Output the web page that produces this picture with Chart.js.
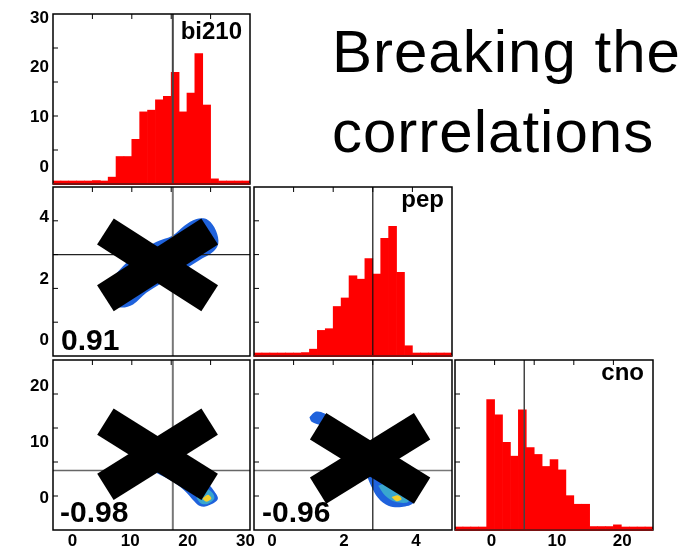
<!DOCTYPE html>
<html>
<head>
<meta charset="utf-8">
<script src="https://cdn.jsdelivr.net/npm/chart.js@4.4.0/dist/chart.umd.min.js"></script>
<style>
html, body { margin: 0; padding: 0; background: #fff; }
#page { position: relative; width: 697px; height: 547px; overflow: hidden; font-family: "Liberation Sans", Arial, Helvetica, sans-serif; }
#page canvas { position: absolute; }
.head { position: absolute; left: 332px; font-size: 60px; line-height: 60px; letter-spacing: 1px; color: #000; white-space: nowrap; }
.tag { position: absolute; font-size: 24px; line-height: 24px; font-weight: bold; color: #000; }
.corr { position: absolute; font-size: 30px; line-height: 30px; font-weight: bold; color: #000; }
</style>
</head>
<body>
<div id="page">
  <div class="head" style="top:22px">Breaking the</div>
  <div class="head" style="top:102px">correlations</div>
</div>
<script>
const FONT = '"Liberation Sans", Arial, Helvetica, sans-serif';
const bins = 25;

// parameter ranges of the panels
const bi210Range = [-3.4, 30.8];
const pepRange = [-0.5, 5.0];
const cnoRange = [-5.6, 24.7];

const bi210Ticks = [0, 10, 20, 30];
const pepTicks = [0, 2, 4];
const cnoTicks = [0, 10, 20];

// histogram counts, 25 bins across each range
const bi210Counts = [0, 0, 0, 0, 1, 2, 1, 4, 16, 16, 26, 42, 43, 49, 51, 65, 42, 53, 76, 46, 3, 0, 0, 0, 0];
const pepCounts = [0, 0, 0, 0, 1, 1, 2, 4, 15, 16, 29, 34, 47, 45, 57, 48, 69, 76, 49, 6, 1, 0, 0, 0, 0];
const cnoCounts = [0, 0, 0, 0, 76, 67, 51, 43, 70, 48, 44, 37, 41, 35, 20, 15, 15, 2, 2, 2, 3, 0, 0, 0, 0];
const countMax = 99;

// best fit values
const bi210Best = 17.4;
const pepBest = 2.8;
const cnoBest = 5.0;

const corrBiPep = '0.91';
const corrBiCno = '-0.98';
const corrPepCno = '-0.96';

// contour outlines (x, y) in parameter units
const biPepOuter = [[6.1, 1.29], [8.2, 1.08], [10.5, 1.18], [12.8, 1.56], [17.4, 2.09], [22.0, 2.62], [24.4, 2.89], [25.3, 3.16], [24.9, 3.58], [23.5, 3.93], [21.5, 3.96], [19.4, 3.74], [17.4, 3.42], [14.5, 3.21], [11.6, 2.89], [8.7, 2.41], [6.4, 1.88], [5.7, 1.5], [6.1, 1.29]];
const biCnoOuter = [[14.5, 4.6], [17.4, 3.0], [19.4, 1.44], [21.2, -0.57], [22.0, -1.26], [23.2, -1.38], [25.2, -0.11], [24.5, 1.44], [23.5, 2.59], [19.7, 5.17], [16.3, 6.9], [14.5, 4.6]];
const biCnoMid = [[21.5, 0.11], [22.3, -0.86], [23.5, -0.92], [24.6, 0.0], [24.2, 1.15], [22.9, 1.72], [21.5, 0.11]];
const biCnoCore = [[22.5, 0.0], [23.2, -0.57], [24.1, 0.0], [23.5, 0.69], [22.5, 0.0]];
const pepCnoOuter = [[1.04, 14.5], [1.22, 15.5], [1.45, 15.2], [1.75, 13.5], [2.31, 9.8], [2.77, 6.3], [3.32, 4.0], [3.79, 1.72], [3.93, -0.69], [3.6, -1.49], [3.23, -1.26], [2.95, 0.11], [2.75, 2.3], [2.58, 4.6], [2.03, 8.6], [1.38, 12.9], [1.1, 13.7], [1.04, 14.5]];
const pepCnoMid = [[2.95, 2.3], [3.14, 0.57], [3.42, -0.57], [3.79, -0.57], [3.69, 1.15], [3.32, 2.87], [2.95, 2.3]];
const pepCnoCore = [[3.32, 0.29], [3.46, -0.46], [3.6, -0.11], [3.51, 0.57], [3.32, 0.29]];

// the crossing-out marks, two arms each: [x1, y1, x2, y2]
const biPepCross = [[5.7, 3.55, 23.8, 1.38], [5.7, 1.38, 23.8, 3.55]];
const biCnoCross = [[5.7, 13.7, 23.8, 2.07], [5.7, 2.07, 23.8, 13.7]];
const pepCnoCross = [[1.28, 12.9, 4.17, 1.43], [1.28, 1.43, 4.17, 12.9]];

const page = document.getElementById('page');

const framePlugin = {
    id: 'frame',
    afterDatasetsDraw(chart, args, opts) {
        const { ctx, chartArea: a } = chart;
        const xs = chart.scales.x;
        const ys = chart.scales.y;
        ctx.save();
        ctx.strokeStyle = '#000';
        ctx.lineWidth = 1;
        ctx.beginPath();
        for (let k = 1; k < 5; k++) {
            const px = xs.getPixelForValue(xs.min + k * (xs.max - xs.min) / 5);
            const py = ys.getPixelForValue(ys.min + k * (ys.max - ys.min) / 5);
            ctx.moveTo(px, a.top);
            ctx.lineTo(px, a.top + 5);
            ctx.moveTo(a.left, py);
            ctx.lineTo(a.left + 5, py);
        }
        ctx.stroke();
        ctx.lineWidth = 1.5;
        ctx.strokeRect(a.left, a.top, a.right - a.left, a.bottom - a.top);
        if (opts.base) {
            ctx.strokeStyle = opts.base;
            ctx.lineWidth = 2;
            ctx.beginPath();
            ctx.moveTo(a.left, a.bottom);
            ctx.lineTo(a.right, a.bottom);
            ctx.stroke();
        }
        ctx.restore();
    }
};

// canvas margins around the plot frame
const M = { left: 50, top: 8, right: 12, bottom: 20 };

const addCanvas = (box) => {
    const c = document.createElement('canvas');
    c.width = box.w + M.left + M.right;
    c.height = box.h + M.top + M.bottom;
    c.style.left = (box.x - M.left) + 'px';
    c.style.top = (box.y - M.top) + 'px';
    page.appendChild(c);
    return c;
};

const addText = (cls, text, style) => {
    const d = document.createElement('div');
    d.className = cls;
    d.textContent = text;
    Object.assign(d.style, style);
    page.appendChild(d);
};

const axis = (range, ticks, pos) => {
    const a = {
        type: 'linear',
        position: pos,
        min: range[0],
        max: range[1],
        offset: false,
        display: !!ticks,
        grid: { display: false, drawTicks: false },
        border: { display: false },
        ticks: {
            color: '#000',
            font: { family: FONT, size: 17, weight: 'bold' },
            padding: pos === 'left' ? 4 : 1,
            maxRotation: 0,
            autoSkip: false
        },
        afterFit: (s) => {
            if (pos === 'left') s.width = ticks ? M.left : 0;
            else s.height = ticks ? M.bottom : 0;
            s.paddingTop = 0;
            s.paddingBottom = 0;
            s.paddingLeft = 0;
            s.paddingRight = 0;
        }
    };
    if (ticks) a.afterBuildTicks = (s) => { s.ticks = ticks.map(v => ({ value: v })); };
    return a;
};

const baseOptions = (scales, frame, xTicks, yTicks) => ({
    responsive: false,
    animation: false,
    devicePixelRatio: 1,
    events: [],
    layout: { padding: { left: yTicks ? 0 : M.left, top: M.top, right: M.right, bottom: xTicks ? 0 : M.bottom } },
    plugins: { legend: { display: false }, tooltip: { enabled: false }, frame: frame },
    scales: scales
});

const refLine = (pts, color, width) => ({
    type: 'line',
    data: pts,
    yAxisID: 'y',
    borderColor: color,
    borderWidth: width,
    pointRadius: 0,
    showLine: true,
    order: 1
});

const histChart = (box, range, counts, best, lineStyle, xTicks, yTicks) => {
    const w = (range[1] - range[0]) / bins;
    const bars = counts.map((c, i) => ({ x: range[0] + (i + 0.5) * w, y: c }));
    return new Chart(addCanvas(box), {
        type: 'bar',
        data: {
            datasets: [
                refLine([{ x: best, y: range[0] }, { x: best, y: range[1] }], lineStyle[0], lineStyle[1]),
                {
                    data: bars,
                    yAxisID: 'yc',
                    backgroundColor: '#ff0000',
                    borderWidth: 0,
                    barPercentage: 1,
                    categoryPercentage: 1,
                    minBarLength: 3,
                    order: 2
                }
            ]
        },
        options: baseOptions({
            x: axis(range, xTicks, 'bottom'),
            y: axis(range, yTicks, 'left'),
            yc: { type: 'linear', display: false, min: 0, max: countMax }
        }, { base: '#7a1212' }, xTicks, yTicks),
        plugins: [framePlugin]
    });
};

const layer = (pts, color, order) => ({
    type: 'line',
    data: pts.map(p => ({ x: p[0], y: p[1] })),
    showLine: true,
    borderWidth: 0,
    borderColor: color,
    backgroundColor: color,
    fill: 'shape',
    tension: 0.35,
    pointRadius: 0,
    order: order
});

const arm = (seg) => ({
    type: 'line',
    data: [{ x: seg[0], y: seg[1] }, { x: seg[2], y: seg[3] }],
    showLine: true,
    borderColor: '#000',
    borderWidth: 31,
    borderCapStyle: 'butt',
    pointRadius: 0,
    order: 0
});

const pairChart = (box, xr, yr, xBest, yBest, layers, cross, vStyle, hStyle, xTicks, yTicks) => {
    const datasets = [
        arm(cross[0]),
        arm(cross[1]),
        refLine([{ x: xBest, y: yr[0] }, { x: xBest, y: yr[1] }], vStyle[0], vStyle[1]),
        refLine([{ x: xr[0], y: yBest }, { x: xr[1], y: yBest }], hStyle[0], hStyle[1])
    ];
    const colors = ['#1f62dc', '#39a6cf', '#f3cf2c'];
    layers.forEach((pts, i) => datasets.push(layer(pts, colors[i], 2 + layers.length - i)));
    return new Chart(addCanvas(box), {
        type: 'scatter',
        data: { datasets: datasets },
        options: baseOptions({
            x: axis(xr, xTicks, 'bottom'),
            y: axis(yr, yTicks, 'left')
        }, {}, xTicks, yTicks),
        plugins: [framePlugin]
    });
};

document.addEventListener('DOMContentLoaded', () => {
    // diagonal histograms
    histChart({ x: 53, y: 14, w: 197, h: 170 }, bi210Range, bi210Counts, bi210Best, ['#444', 2], null, bi210Ticks);
    histChart({ x: 254, y: 187, w: 198, h: 169 }, pepRange, pepCounts, pepBest, ['#111', 1.2], null, null);
    histChart({ x: 455, y: 360, w: 198, h: 170 }, cnoRange, cnoCounts, cnoBest, ['#444', 1.5], cnoTicks, null);

    // correlation panels
    pairChart({ x: 53, y: 187, w: 197, h: 169 }, bi210Range, pepRange, bi210Best, pepBest,
        [biPepOuter], biPepCross, ['#777', 2], ['#222', 1.2], null, pepTicks);
    pairChart({ x: 53, y: 360, w: 197, h: 170 }, bi210Range, cnoRange, bi210Best, cnoBest,
        [biCnoOuter, biCnoMid, biCnoCore], biCnoCross, ['#777', 2], ['#666', 1.5], bi210Ticks, cnoTicks);
    pairChart({ x: 254, y: 360, w: 198, h: 170 }, pepRange, cnoRange, pepBest, cnoBest,
        [pepCnoOuter, pepCnoMid, pepCnoCore], pepCnoCross, ['#111', 1.2], ['#777', 1.5], pepTicks, null);

    addText('tag', 'bi210', { right: '455px', top: '19px' });
    addText('tag', 'pep', { right: '253px', top: '187px' });
    addText('tag', 'cno', { right: '53px', top: '360px' });
    addText('corr', corrBiPep, { left: '61px', top: '325px' });
    addText('corr', corrBiCno, { left: '60px', top: '497px' });
    addText('corr', corrPepCno, { left: '262px', top: '497px' });
});
</script>
</body>
</html>
